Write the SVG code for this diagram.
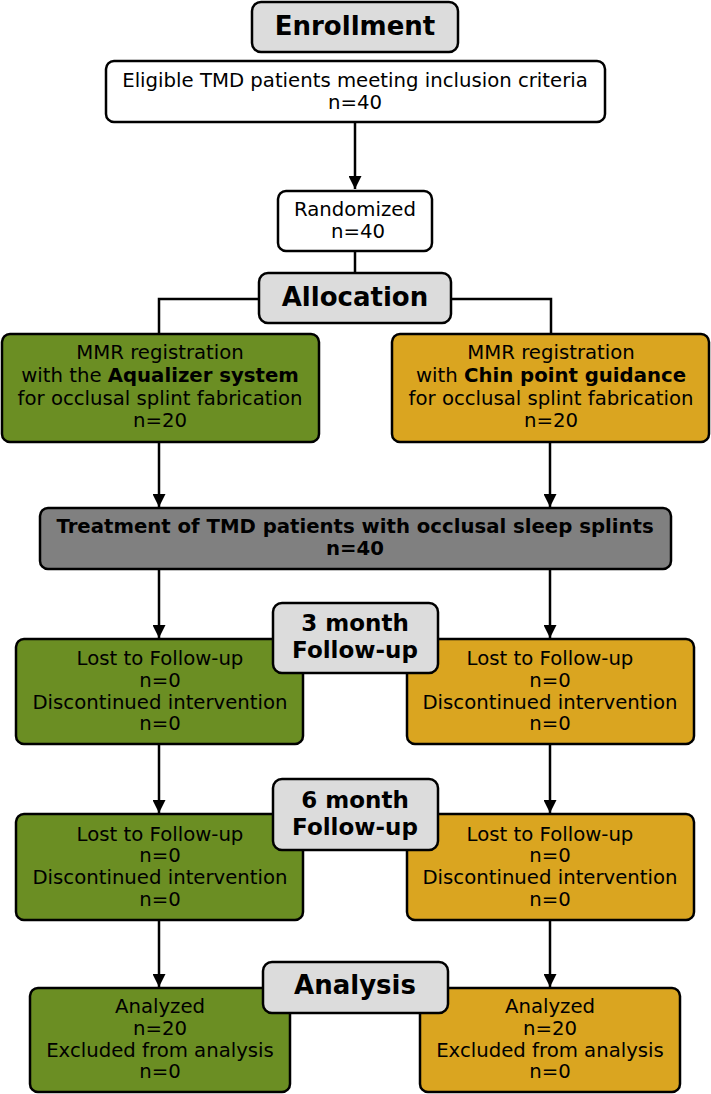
<svg xmlns="http://www.w3.org/2000/svg" width="711" height="1094" viewBox="0 0 711 1094">
<style>
text{font-family:"DejaVu Sans","Liberation Sans",sans-serif;text-anchor:middle;fill:#000}
.t{font-size:19.7px}
.b{font-size:19.7px;font-weight:bold}
.h{font-size:26px;font-weight:bold}
.h2{font-size:23px;font-weight:bold}
rect{stroke:#000;stroke-width:2.5}
.w{fill:#fff}
.g{fill:#6b8e23}
.o{fill:#daa520}
.gr{fill:#808080}
.lg{fill:#dcdcdc}
.c{fill:none;stroke:#000;stroke-width:2.5}
</style>
<defs>
<marker id="ah" markerUnits="userSpaceOnUse" markerWidth="14" markerHeight="13" refX="13" refY="6.5" orient="auto">
<path d="M0,0 L13,6.5 L0,13 Z" fill="#000"/>
</marker>
</defs>
<g id="connectors">
<path class="c" d="M355,122 V189" marker-end="url(#ah)"/>
<path class="c" d="M355,251 V273"/>
<path class="c" d="M259,299 H159 V334"/>
<path class="c" d="M451,299 H551 V334"/>
<path class="c" d="M159,442 V507" marker-end="url(#ah)"/>
<path class="c" d="M550,442 V507" marker-end="url(#ah)"/>
<path class="c" d="M159,569 V638" marker-end="url(#ah)"/>
<path class="c" d="M550,569 V638" marker-end="url(#ah)"/>
<path class="c" d="M159,744 V813" marker-end="url(#ah)"/>
<path class="c" d="M550,744 V813" marker-end="url(#ah)"/>
<path class="c" d="M159,920 V987" marker-end="url(#ah)"/>
<path class="c" d="M550,920 V987" marker-end="url(#ah)"/>
</g>
<g id="eligible">
<rect class="w" x="106" y="61" width="499" height="61" rx="8"/>
<text class="t" x="355" y="87">Eligible TMD patients meeting inclusion criteria</text>
<text class="t" x="355" y="109">n=40</text>
</g>
<g id="randomized">
<rect class="w" x="278" y="191" width="154" height="60" rx="8"/>
<text class="t" x="355" y="216">Randomized</text>
<text class="t" x="358" y="238">n=40</text>
</g>
<g id="alloc-green">
<rect class="g" x="2" y="334" width="317" height="108" rx="8"/>
<text class="t" x="160" y="359">MMR registration</text>
<text class="t" x="160" y="382">with the <tspan font-weight="bold">Aqualizer system</tspan></text>
<text class="t" x="160" y="405">for occlusal splint fabrication</text>
<text class="t" x="160" y="427">n=20</text>
</g>
<g id="alloc-orange">
<rect class="o" x="392" y="334" width="317" height="108" rx="8"/>
<text class="t" x="551" y="359">MMR registration</text>
<text class="t" x="551" y="382">with <tspan font-weight="bold">Chin point guidance</tspan></text>
<text class="t" x="551" y="405">for occlusal splint fabrication</text>
<text class="t" x="551" y="427">n=20</text>
</g>
<g id="treatment">
<rect class="gr" x="40" y="508" width="631" height="61" rx="8"/>
<text class="b" x="355" y="533">Treatment of TMD patients with occlusal sleep splints</text>
<text class="b" x="355" y="555">n=40</text>
</g>
<g id="fu3-green">
<rect class="g" x="16" y="639" width="287" height="105" rx="8"/>
<text class="t" x="160" y="665">Lost to Follow-up</text>
<text class="t" x="160" y="687">n=0</text>
<text class="t" x="160" y="709">Discontinued intervention</text>
<text class="t" x="160" y="730">n=0</text>
</g>
<g id="fu3-orange">
<rect class="o" x="407" y="639" width="287" height="105" rx="8"/>
<text class="t" x="550" y="665">Lost to Follow-up</text>
<text class="t" x="550" y="687">n=0</text>
<text class="t" x="550" y="709">Discontinued intervention</text>
<text class="t" x="550" y="730">n=0</text>
</g>
<g id="fu6-green">
<rect class="g" x="16" y="814" width="287" height="106" rx="8"/>
<text class="t" x="160" y="841">Lost to Follow-up</text>
<text class="t" x="160" y="862">n=0</text>
<text class="t" x="160" y="884">Discontinued intervention</text>
<text class="t" x="160" y="906">n=0</text>
</g>
<g id="fu6-orange">
<rect class="o" x="407" y="814" width="287" height="106" rx="8"/>
<text class="t" x="550" y="841">Lost to Follow-up</text>
<text class="t" x="550" y="862">n=0</text>
<text class="t" x="550" y="884">Discontinued intervention</text>
<text class="t" x="550" y="906">n=0</text>
</g>
<g id="analysis-green">
<rect class="g" x="30" y="988" width="260" height="104" rx="8"/>
<text class="t" x="160" y="1013">Analyzed</text>
<text class="t" x="160" y="1035">n=20</text>
<text class="t" x="160" y="1057">Excluded from analysis</text>
<text class="t" x="160" y="1078">n=0</text>
</g>
<g id="analysis-orange">
<rect class="o" x="420" y="988" width="260" height="104" rx="8"/>
<text class="t" x="550" y="1013">Analyzed</text>
<text class="t" x="550" y="1035">n=20</text>
<text class="t" x="550" y="1057">Excluded from analysis</text>
<text class="t" x="550" y="1078">n=0</text>
</g>
<g id="enrollment">
<rect class="lg" x="252" y="2" width="206" height="50" rx="9"/>
<text class="h" x="355" y="35">Enrollment</text>
</g>
<g id="allocation">
<rect class="lg" x="259" y="273" width="192" height="50" rx="9"/>
<text class="h" x="355" y="306">Allocation</text>
</g>
<g id="month3">
<rect class="lg" x="273" y="603" width="165" height="70" rx="9"/>
<text class="h2" x="355" y="631">3 month</text>
<text class="h2" x="355" y="658">Follow-up</text>
</g>
<g id="month6">
<rect class="lg" x="273" y="779" width="165" height="71" rx="9"/>
<text class="h2" x="355" y="808">6 month</text>
<text class="h2" x="355" y="835">Follow-up</text>
</g>
<g id="analysis">
<rect class="lg" x="263" y="962" width="185" height="51" rx="9"/>
<text class="h" x="355" y="994">Analysis</text>
</g>
</svg>
